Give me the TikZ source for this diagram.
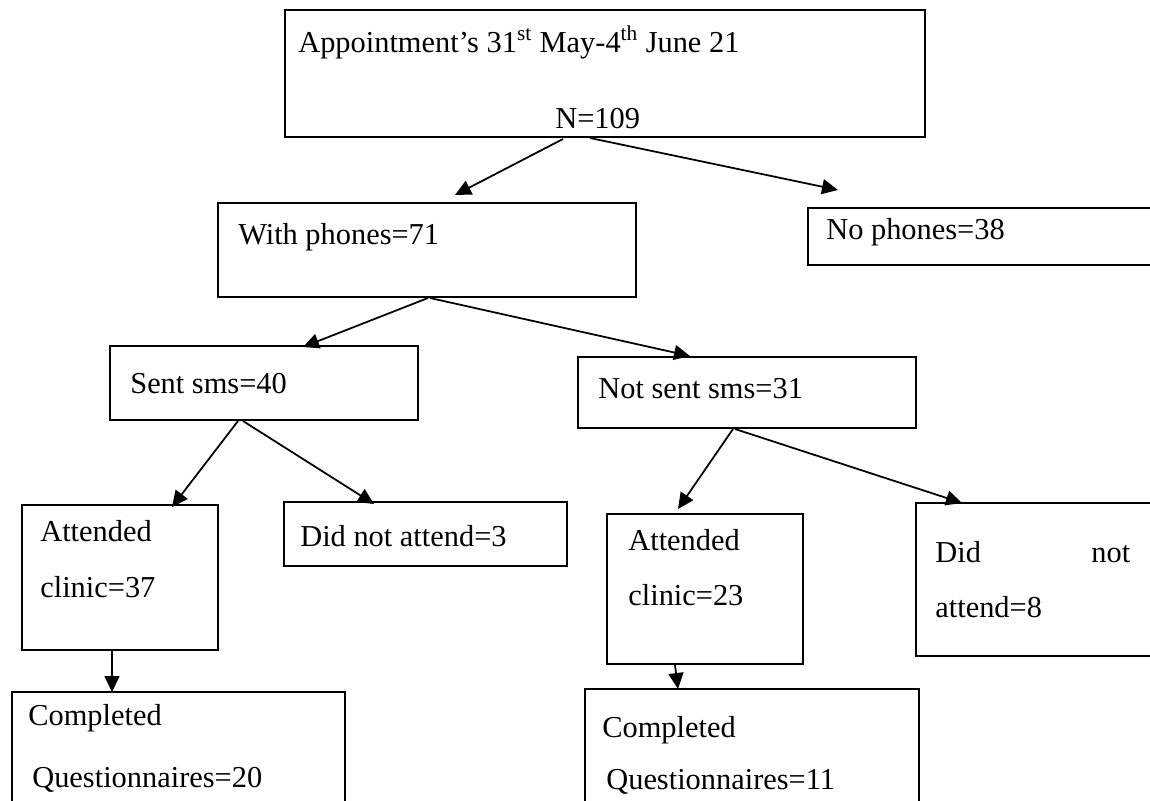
\documentclass[tikz,border=0pt]{standalone}
\usepackage{fontspec}
\setmainfont{Liberation Serif}
\usetikzlibrary{arrows.meta,fit}
\begin{document}
\begin{tikzpicture}[x=0.02cm,y=-0.02cm,
  box/.style={draw, line width=0.9pt, inner sep=0pt},
  txt/.style={anchor=base west, inner sep=0pt, font=\fontsize{17.3}{20}\selectfont},
  arr/.style={line width=1pt, -{Triangle[length=0.32cm,width=0.3cm]}}]
\useasboundingbox (0,0) rectangle (1150,801);
\clip (0,0) rectangle (1150,801);
% boxes
\node[box, fit={(285,10) (925,137)}] (top) {};
\node[box, fit={(218,203) (636,297)}] (withph) {};
\node[box, fit={(808,208) (1160,265)}] (noph) {};
\node[box, fit={(110,346) (418,420)}] (sent) {};
\node[box, fit={(578,357) (916,428)}] (notsent) {};
\node[box, fit={(22,505) (218,650)}] (att1) {};
\node[box, fit={(284,502) (567,566)}] (dna1) {};
\node[box, fit={(607,514) (803,664)}] (att2) {};
\node[box, fit={(916,503) (1160,656)}] (dna2) {};
\node[box, fit={(12,692) (345,820)}] (comp1) {};
\node[box, fit={(585,689) (919,820)}] (comp2) {};
% texts
\node[txt] (t1) at (298,52) {Appointment’s 31\textsuperscript{st} May-4\textsuperscript{th} June 21};
\node[txt] (t1b) at (555,128) {N=109};
\node[txt] (t2) at (238,244) {With phones=71};
\node[txt] (t3) at (826,239) {No phones=38};
\node[txt] (t4) at (130,393) {Sent sms=40};
\node[txt] (t5) at (598,398) {Not sent sms=31};
\node[txt] (t6a) at (40,541) {Attended};
\node[txt] (t6b) at (40,597) {clinic=37};
\node[txt] (t7) at (300,546) {Did not attend=3};
\node[txt] (t8a) at (628,550) {Attended};
\node[txt] (t8b) at (628,605) {clinic=23};
\node[txt] (t9a) at (935,562) {\makebox[3.9cm][s]{Did\hfill not}};
\node[txt] (t9b) at (935,617) {attend=8};
\node[txt] (t10a) at (28,725) {Completed};
\node[txt] (t10b) at (32,787) {Questionnaires=20};
\node[txt] (t11a) at (602,737) {Completed};
\node[txt] (t11b) at (606,789) {Questionnaires=11};
% connector end points
\coordinate (a1s) at (563,139); \coordinate (a1e) at (455,195);
\coordinate (a2s) at (590,138); \coordinate (a2e) at (838,190);
\coordinate (a3s) at (428,298); \coordinate (a3e) at (303,347);
\coordinate (a4s) at (430,298); \coordinate (a4e) at (690,356);
\coordinate (a5s) at (238,421); \coordinate (a5e) at (172,507);
\coordinate (a6s) at (243,421); \coordinate (a6e) at (374,504);
\coordinate (a7s) at (733,429); \coordinate (a7e) at (678,509);
\coordinate (a8s) at (735,429); \coordinate (a8e) at (962,503);
\coordinate (a9s) at (112,651); \coordinate (a9e) at (112,692);
\coordinate (a10s) at (675,665); \coordinate (a10e) at (678,689);
\foreach \i in {1,...,10} {\draw[arr] (a\i s) -- (a\i e);}
\end{tikzpicture}
\end{document}
